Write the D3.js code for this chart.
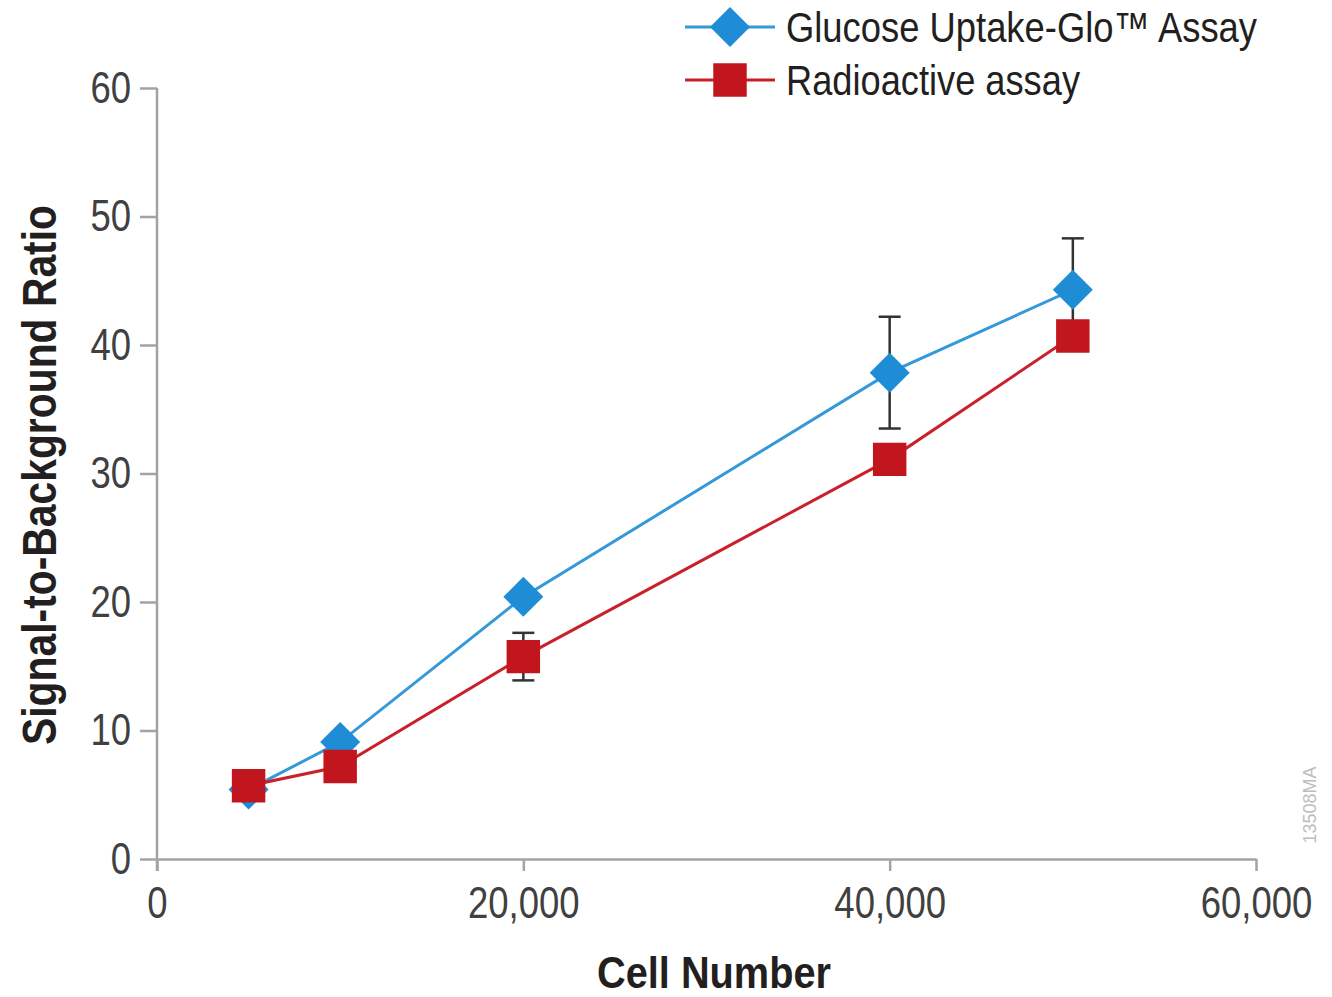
<!DOCTYPE html>
<html>
<head>
<meta charset="utf-8">
<script src="https://cdn.jsdelivr.net/npm/d3@7"></script>
<style>
  body { margin: 0; background: #fff; }
  text { font-family: "Liberation Sans Narrow", "Arial Narrow", "Liberation Sans", Arial, sans-serif; }
</style>
</head>
<body>
<svg id="chart" width="1332" height="997"></svg>
<script>
// Cell numbers plated per well
const cellNumbers = [5000, 10000, 20000, 40000, 50000];
// Signal-to-background ratios for each assay
const glucoseUptakeGlo = [5.4, 9.1, 20.4, 37.85, 44.3];
const glucoseErr = [0, 0, 0, 4.35, 4.0];
const radioactive = [5.7, 7.2, 15.75, 31.1, 40.7];
const radioactiveErr = [0, 0, 1.85, 0, 0];
// Axis ticks
const xTicks = [0, 20000, 40000, 60000];
const yTicks = [0, 10, 20, 30, 40, 50, 60];
const seriesNames = ["Glucose Uptake-Glo™ Assay", "Radioactive assay"];

const svg = d3.select("#chart");
const x = d3.scaleLinear().domain([0, 60000]).range([157, 1256]);
const y = d3.scaleLinear().domain([0, 60]).range([859, 88]);

const blueLine = "#3499d8", blueMark = "#1f8dd6";
const redLine = "#c9202a", redMark = "#c2161e";
const axisGray = "#a3a3a3";

// Condensed look: scale each tick label horizontally about its anchor point
function condense(sel, k) {
  sel.each(function () {
    const t = d3.select(this);
    const x0 = +(t.attr("x") || 0);
    t.attr("x", x0 / k).attr("transform", `scale(${k},1)`);
  });
}

// Axes
const xAxis = svg.append("g").attr("transform", `translate(0,${y(0)})`)
  .call(d3.axisBottom(x).tickValues(xTicks).tickSize(12).tickSizeOuter(0).tickPadding(16)
    .tickFormat(d3.format(",")));
const yAxis = svg.append("g").attr("transform", `translate(${x(0)},0)`)
  .call(d3.axisLeft(y).tickValues(yTicks).tickSize(17).tickSizeOuter(0).tickPadding(9));
[xAxis, yAxis].forEach(g => {
  g.selectAll("path, line").attr("stroke", axisGray).attr("stroke-width", 2.5);
  g.selectAll("text").attr("fill", "#404040").style("font-size", "44px").style("font-weight", 300)
    .call(condense, 0.83);
});
// y axis continues slightly below zero, as drawn by the x tick at origin
yAxis.select(".domain").attr("d", `M0,${y(60)}V${y(0) + 12}`);

// Series data
const series = [
  { name: seriesNames[0], vals: glucoseUptakeGlo, err: glucoseErr, line: blueLine, mark: blueMark, shape: "diamond" },
  { name: seriesNames[1], vals: radioactive, err: radioactiveErr, line: redLine, mark: redMark, shape: "square" }
];

const lineGen = d3.line().x((d, i) => x(cellNumbers[i])).y(d => y(d));
const diamond = d3.symbol(d3.symbolSquare, 800);
const square = d3.symbol(d3.symbolSquare, 1120);

series.forEach(s => {
  const g = svg.append("g");
  g.append("path").attr("d", lineGen(s.vals)).attr("fill", "none")
    .attr("stroke", s.line).attr("stroke-width", 3);
  // error bars
  const eb = g.selectAll(".eb").data(s.vals.map((v, i) => ({ v, e: s.err[i], c: cellNumbers[i] })).filter(d => d.e > 0))
    .enter().append("g").attr("stroke", "#333").attr("stroke-width", 2.5);
  eb.append("line").attr("x1", d => x(d.c)).attr("x2", d => x(d.c)).attr("y1", d => y(d.v - d.e)).attr("y2", d => y(d.v + d.e));
  eb.append("line").attr("x1", d => x(d.c) - 11).attr("x2", d => x(d.c) + 11).attr("y1", d => y(d.v + d.e)).attr("y2", d => y(d.v + d.e));
  eb.append("line").attr("x1", d => x(d.c) - 11).attr("x2", d => x(d.c) + 11).attr("y1", d => y(d.v - d.e)).attr("y2", d => y(d.v - d.e));
  // markers
  g.selectAll(".m").data(s.vals).enter().append("path")
    .attr("d", s.shape === "diamond" ? diamond : square)
    .attr("transform", (d, i) => `translate(${x(cellNumbers[i])},${y(d)})` + (s.shape === "diamond" ? " rotate(45)" : ""))
    .attr("fill", s.mark);
});

// Legend
const legendRows = [{ s: series[0], cy: 27, tw: 471 }, { s: series[1], cy: 80, tw: 294 }];
legendRows.forEach(r => {
  const g = svg.append("g");
  g.append("line").attr("x1", 685).attr("x2", 775).attr("y1", r.cy).attr("y2", r.cy)
    .attr("stroke", r.s.line).attr("stroke-width", 3);
  g.append("path").attr("d", r.s.shape === "diamond" ? diamond : square)
    .attr("transform", `translate(730,${r.cy})` + (r.s.shape === "diamond" ? " rotate(45)" : ""))
    .attr("fill", r.s.mark);
  g.append("text").attr("x", 786).attr("y", r.cy + 15).text(r.s.name)
    .attr("fill", "#231f20").style("font-size", "42px")
    .attr("textLength", r.tw).attr("lengthAdjust", "spacingAndGlyphs");
});

// Axis titles
svg.append("text").attr("x", 714).attr("y", 988).attr("text-anchor", "middle")
  .attr("fill", "#231f20").style("font-size", "45px").style("font-weight", "bold")
  .attr("textLength", 234).attr("lengthAdjust", "spacingAndGlyphs")
  .text("Cell Number");
svg.append("text").attr("transform", "translate(56,475) rotate(-90)").attr("text-anchor", "middle")
  .attr("fill", "#231f20").style("font-size", "48px").style("font-weight", "bold")
  .attr("textLength", 540).attr("lengthAdjust", "spacingAndGlyphs")
  .text("Signal-to-Background Ratio");

// Figure code
svg.append("text").attr("transform", "translate(1316,805) rotate(-90)").attr("text-anchor", "middle")
  .attr("fill", "#bdbdbd").style("font-size", "18px")
  .text("13508MA");
</script>
</body>
</html>
